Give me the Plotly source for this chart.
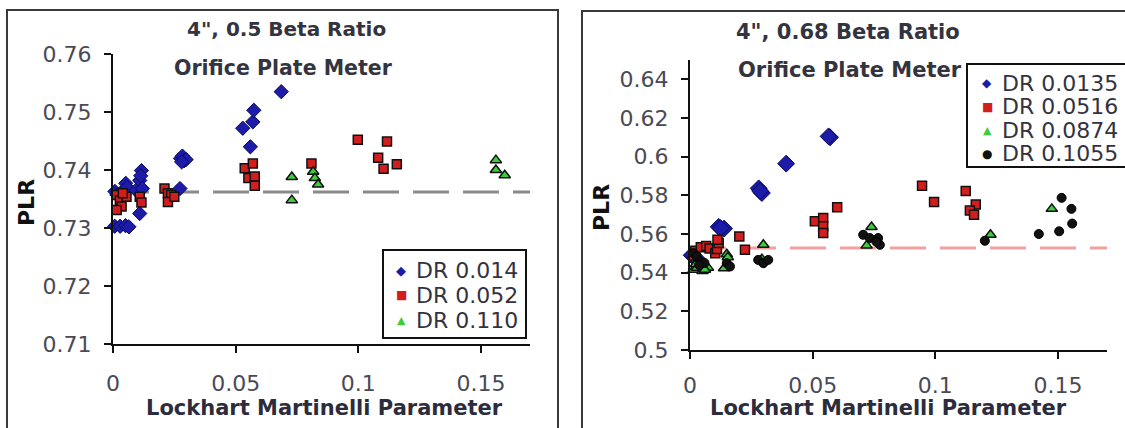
import plotly.graph_objects as go

# ---------------- data: left chart (4", 0.5 beta) ----------------
L_blue_x = [0.0007, 0.0029, 0.0051, 0.0065, 0.0008, 0.0016, 0.0030, 0.0045, 0.0052, 0.0058,
            0.0094, 0.0109, 0.0116, 0.0113, 0.0109, 0.0120, 0.0273, 0.0275, 0.0283, 0.0290,
            0.0298, 0.0280, 0.0529, 0.0560, 0.0570, 0.0574, 0.0686]
L_blue_y = [0.7303, 0.7303, 0.7304, 0.7302, 0.7363, 0.7357, 0.7360, 0.7362, 0.7377, 0.7370,
            0.7365, 0.7382, 0.7399, 0.7390, 0.7325, 0.7368, 0.7368, 0.7420, 0.7424, 0.7416,
            0.7418, 0.7414, 0.7472, 0.7440, 0.7483, 0.7503, 0.7535]
L_red_x = [0.0015, 0.0028, 0.0035, 0.0015, 0.0055, 0.0040, 0.0109, 0.0116, 0.0210, 0.0224,
           0.0237, 0.0224, 0.0250, 0.0537, 0.0570, 0.0552, 0.0578, 0.0578, 0.0809, 0.0998,
           0.1117, 0.1081, 0.1103, 0.1157]
L_red_y = [0.7357, 0.7348, 0.7337, 0.7331, 0.7354, 0.7360, 0.7354, 0.7344, 0.7368, 0.7360,
           0.7357, 0.7345, 0.7354, 0.7403, 0.7411, 0.7386, 0.7389, 0.7373, 0.7411, 0.7452,
           0.7449, 0.7421, 0.7402, 0.7410]
L_green_x = [0.0729, 0.0729, 0.0816, 0.0823, 0.0836, 0.1561, 0.1561, 0.1597]
L_green_y = [0.7388, 0.7348, 0.7397, 0.7386, 0.7375, 0.7417, 0.7400, 0.7391]
L_mean = 0.7362

# ---------------- data: right chart (4", 0.68 beta) ----------------
R_blue_x = [0.0007, 0.0020, 0.0030, 0.0117, 0.0139, 0.0125, 0.0280, 0.0293, 0.0286, 0.0392, 0.0571, 0.0565]
R_blue_y = [0.5490, 0.5475, 0.5470, 0.5637, 0.5628, 0.5630, 0.5836, 0.5812, 0.5822, 0.5964, 0.6100, 0.6105]
R_red_x = [0.0015, 0.0022, 0.0044, 0.0066, 0.0080, 0.0103, 0.0110, 0.0117, 0.0112, 0.0201,
           0.0224, 0.0509, 0.0543, 0.0543, 0.0543, 0.0600, 0.0946, 0.0995, 0.1124, 0.1165,
           0.1141, 0.1158]
R_red_y = [0.5488, 0.5514, 0.5532, 0.5538, 0.5525, 0.5501, 0.5523, 0.5553, 0.5570, 0.5587,
           0.5518, 0.5666, 0.5683, 0.5640, 0.5605, 0.5739, 0.5849, 0.5765, 0.5822, 0.5752,
           0.5721, 0.5700]
R_green_x = [0.0015, 0.0029, 0.0051, 0.0073, 0.0024, 0.0061, 0.0139, 0.0150, 0.0154, 0.0299,
             0.0293, 0.0720, 0.0740, 0.1225, 0.1475]
R_green_y = [0.5415, 0.5426, 0.5409, 0.5426, 0.5445, 0.5415, 0.5423, 0.5495, 0.5480, 0.5544,
             0.5470, 0.5540, 0.5636, 0.5596, 0.5730]
R_black_x = [0.0014, 0.0027, 0.0041, 0.0059, 0.0037, 0.0150, 0.0163, 0.0278, 0.0299, 0.0319,
             0.0706, 0.0733, 0.0767, 0.0774, 0.0760, 0.1202, 0.1422, 0.1505, 0.1515, 0.1555, 0.1558]
R_black_y = [0.5501, 0.5483, 0.5457, 0.5450, 0.5440, 0.5449, 0.5432, 0.5466, 0.5449, 0.5466,
             0.5596, 0.5579, 0.5579, 0.5544, 0.5560, 0.5565, 0.5600, 0.5614, 0.5787, 0.5730, 0.5654]
R_mean = 0.5527

X_RANGE = [0, 0.17]
X_TICKS = [0, 0.05, 0.1, 0.15]
L_Y_TICKS = [0.71, 0.72, 0.73, 0.74, 0.75, 0.76]
R_Y_TICKS = [0.5, 0.52, 0.54, 0.56, 0.58, 0.6, 0.62, 0.64]

L_TITLE = ['4", 0.5 Beta Ratio', 'Orifice Plate Meter']
R_TITLE = ['4", 0.68 Beta Ratio', 'Orifice Plate Meter']
X_TITLE = 'Lockhart Martinelli Parameter'
Y_TITLE = 'PLR'
L_LEG = ['DR 0.014', 'DR 0.052', 'DR 0.110']
R_LEG = ['DR 0.0135', 'DR 0.0516', 'DR 0.0874', 'DR 0.1055']

# ---------------- styles ----------------
W, H = 1125, 428
FONT = 'DejaVu Sans'
BLUE = '#1c1ca8'
RED = '#d21e1e'
GREEN = '#3ccc3c'
BLACK = '#111111'
TXT = '#4a4a55'

def px(x):
    return x / W

def py(y):
    return 1 - y / H

def scat(x, y, sym, color, size, line_color, line_w, xa, ya):
    return go.Scatter(x=x, y=y, mode='markers', xaxis=xa, yaxis=ya, showlegend=False,
                      cliponaxis=False,
                      marker=dict(symbol=sym, color=color, size=size,
                                  line=dict(color=line_color, width=line_w)))

fig = go.Figure()
# mean lines
fig.add_trace(go.Scatter(x=X_RANGE, y=[L_mean, L_mean], mode='lines', xaxis='x', yaxis='y',
                         showlegend=False, line=dict(color='#8a8a8a', width=3, dash='36px,14px')))
fig.add_trace(go.Scatter(x=X_RANGE, y=[R_mean, R_mean], mode='lines', xaxis='x2', yaxis='y2',
                         showlegend=False, line=dict(color='#f2a0a0', width=3, dash='36px,14px')))
# left series
fig.add_trace(scat(L_blue_x, L_blue_y, 'diamond', BLUE, 11, '#0a0a60', 1, 'x', 'y'))
fig.add_trace(scat(L_red_x, L_red_y, 'square', RED, 9, '#111', 1.5, 'x', 'y'))
fig.add_trace(scat(L_green_x, L_green_y, 'triangle-up', GREEN, 10, '#111', 1.5, 'x', 'y'))
# right series
fig.add_trace(scat(R_blue_x, R_blue_y, 'diamond', BLUE, 13, '#0a0a60', 1, 'x2', 'y2'))
fig.add_trace(scat(R_red_x, R_red_y, 'square', RED, 9, '#111', 1.5, 'x2', 'y2'))
fig.add_trace(scat(R_green_x, R_green_y, 'triangle-up', GREEN, 10, '#111', 1.5, 'x2', 'y2'))
fig.add_trace(scat(R_black_x, R_black_y, 'circle', BLACK, 9, '#000', 1, 'x2', 'y2'))

axis_common = dict(showline=True, linecolor='#111', linewidth=2, ticks='outside', ticklen=7,
                   tickwidth=2, tickcolor='#111', showgrid=False, zeroline=False, automargin=False,
                   tickfont=dict(family=FONT, size=22, color=TXT))

fig.update_layout(
    width=W, height=H, autosize=False,
    margin=dict(l=0, r=0, t=0, b=0, pad=0, autoexpand=False),
    paper_bgcolor='white', plot_bgcolor='white', showlegend=False,
    xaxis=dict(domain=[px(113), px(530)], range=X_RANGE, tickvals=X_TICKS, anchor='y',
               ticklabelstandoff=12, **axis_common),
    yaxis=dict(domain=[py(344), py(54)], range=[0.71, 0.76], tickvals=L_Y_TICKS, anchor='x',
               ticklabelstandoff=8, **axis_common),
    xaxis2=dict(domain=[px(690), px(1107)], range=X_RANGE, tickvals=X_TICKS, anchor='y2',
                ticklabelstandoff=8, **axis_common),
    yaxis2=dict(domain=[py(350), py(60)], range=[0.5, 0.65], tickvals=R_Y_TICKS, anchor='x2',
                ticklabelstandoff=8, **axis_common),
)

shapes = []
# outer frames
shapes.append(dict(type='rect', xref='paper', yref='paper', x0=px(7), x1=px(558), y0=-0.05, y1=py(10),
                   line=dict(color='#3a3a3a', width=2)))
shapes.append(dict(type='rect', xref='paper', yref='paper', x0=px(582), x1=1.05, y0=-0.05, y1=py(11),
                   line=dict(color='#3a3a3a', width=2)))
# legend boxes
shapes.append(dict(type='rect', xref='paper', yref='paper', x0=px(383), x1=px(526), y0=py(338), y1=py(250),
                   line=dict(color='#111', width=2), fillcolor='white'))
shapes.append(dict(type='rect', xref='paper', yref='paper', x0=px(967), x1=1.05, y0=py(167), y1=py(64),
                   line=dict(color='#111', width=2), fillcolor='white'))
fig.update_layout(shapes=shapes)

ann = []
def text(x, y, s, size, color, bold=False, xanchor='center', angle=0):
    ann.append(dict(xref='paper', yref='paper', x=px(x), y=py(y), text=('<b>%s</b>' % s) if bold else s,
                    showarrow=False, xanchor=xanchor, yanchor='middle', textangle=angle,
                    font=dict(family=FONT, size=size, color=color)))

TCOL = '#34343f'
text(286, 29, L_TITLE[0], 20, TCOL, True)
text(283, 68, L_TITLE[1], 20.5, TCOL, True)
text(848, 32, R_TITLE[0], 21, TCOL, True)
text(850, 70, R_TITLE[1], 21, TCOL, True)
text(324, 408, X_TITLE, 21, '#2c2c3c', True)
text(888, 408, X_TITLE, 21, '#2c2c3c', True)
text(26, 203, Y_TITLE, 22, '#111', True, angle=-90)
text(601, 208, Y_TITLE, 22, '#111', True, angle=-90)

# legends
sym_l = [('\u25c6', BLUE, 13), ('\u25a0', RED, 12), ('\u25b2', GREEN, 11)]
for i, lab in enumerate(L_LEG):
    yy = 270 + 25 * i
    s, c, sz = sym_l[i]
    text(401, yy, '<span style="color:%s">%s</span>' % (c, s), sz, c)
    text(414, yy, lab, 22, '#333340', xanchor='left')
sym_r = [('\u25c6', BLUE, 12), ('\u25a0', RED, 12), ('\u25b2', GREEN, 11), ('\u25cf', BLACK, 12)]
for i, lab in enumerate(R_LEG):
    yy = 83 + 23.5 * i
    s, c, sz = sym_r[i]
    text(987, yy, '<span style="color:%s">%s</span>' % (c, s), sz, c)
    text(1000, yy, lab, 22, '#333340', xanchor='left')
fig.update_layout(annotations=ann)

fig.write_html('out.html', config={'responsive': False})
